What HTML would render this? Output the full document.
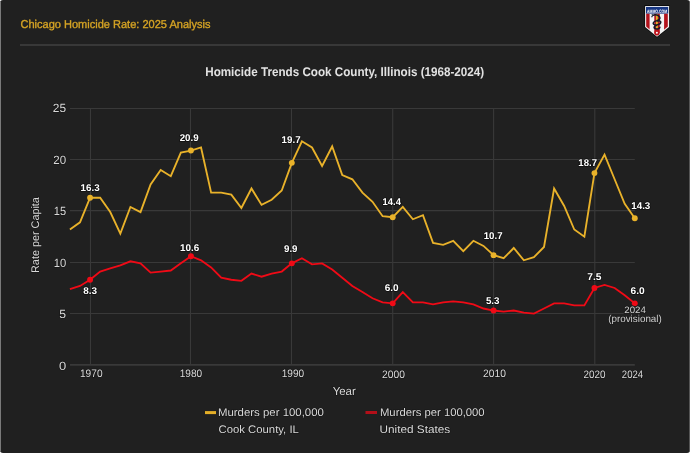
<!DOCTYPE html>
<html><head><meta charset="utf-8"><title>Chicago Homicide Rate: 2025 Analysis</title>
<style>
html,body{margin:0;padding:0;background:#ffffff;}
body{width:690px;height:453px;overflow:hidden;position:relative;}
.card{position:absolute;left:0;top:0;width:690px;height:453px;background:#202020;border-radius:3px;}
svg{position:absolute;left:0;top:0;will-change:transform;}
svg text{font-family:"Liberation Sans", Arial, sans-serif;text-rendering:geometricPrecision;}
#texts text.h{stroke:#0a0a0a;stroke-width:1.3px;stroke-opacity:0.45;paint-order:stroke;}
</style></head><body>
<div class="card"></div>
<svg width="690" height="453" viewBox="0 0 690 453">
<rect x="0" y="2" width="1" height="449" fill="#7a7a7a"/>
<rect x="689" y="2" width="1" height="449" fill="#555555"/>
<rect x="20" y="44" width="650" height="2" fill="#383838"/>
<rect x="205" y="411.1" width="11" height="3" fill="#e4ae27"/>
<rect x="365.5" y="411" width="11.5" height="3" fill="#b30f19"/>
<g id="logo">
<defs><clipPath id="shin"><path d="M646.1 13.6 H667.9 V26.6 L657 35.6 L646.1 26.6 Z"/></clipPath></defs>
<path d="M645.3 5.0 H668.9 Q669.9 5 669.9 6 V27.2 L657 37.8 L644.3 27.2 V6 Q644.3 5 645.3 5 Z" fill="#0c0c0c"/>
<path d="M645.6 5.9 H668.6 Q669.1 5.9 669.1 6.4 V26.9 L657 36.8 L645.1 26.9 V6.4 Q645.1 5.9 645.6 5.9 Z" fill="#f4f4f4"/>
<rect x="646.0" y="6.9" width="22.2" height="6.7" fill="#173683"/>
<text x="657.1" y="12.5" font-size="4.9" font-weight="bold" text-anchor="middle" fill="#ffffff" textLength="20" lengthAdjust="spacingAndGlyphs" style="font-family:'Liberation Sans',sans-serif">AMMO.COM</text>
<g clip-path="url(#shin)">
<rect x="646.1" y="13.6" width="3.5" height="24" fill="#b3121c"/>
<rect x="654.3" y="13.6" width="5.5" height="24" fill="#b3121c"/>
<rect x="664.1" y="13.6" width="3.8" height="24" fill="#b3121c"/>
</g>
<rect x="655.9" y="14.2" width="1.9" height="14.8" fill="#e6b426"/>
<path d="M652.8 15.4 C655 14.4 658.8 14.8 659.8 17.2 C660.6 19.4 658.2 20.4 656.6 20.8 C653 21.6 652.2 23.8 654.6 24.6 C657 25.4 660.6 24.4 660.8 22.4 C661 20.6 658.8 20.6 657.2 21.2 M657 25.2 C653.4 25.8 653.2 28.2 656.2 28.8 C658.8 29.2 660.2 28 659.8 26.8" fill="none" stroke="#141a28" stroke-width="1.5"/>
<path d="M652.6 15.4 L651.6 17.2 M652.8 15.4 L651.8 14.4" stroke="#141a28" stroke-width="1.1"/>
<circle cx="656.9" cy="32.8" r="2.6" fill="#c0131c"/>
<circle cx="656.9" cy="32.8" r="1.0" fill="#ffffff"/>
</g>

<g id="chart">
<line x1="70" y1="108.5" x2="634.8" y2="108.5" stroke="#393939" stroke-width="1.1"/>
<line x1="70" y1="159.5" x2="634.8" y2="159.5" stroke="#393939" stroke-width="1.1"/>
<line x1="70" y1="210.6" x2="634.8" y2="210.6" stroke="#393939" stroke-width="1.1"/>
<line x1="70" y1="262.5" x2="634.8" y2="262.5" stroke="#393939" stroke-width="1.1"/>
<line x1="70" y1="313.5" x2="634.8" y2="313.5" stroke="#393939" stroke-width="1.1"/>
<line x1="70" y1="364.9" x2="634.8" y2="364.9" stroke="#393939" stroke-width="1.8"/>
<line x1="90.5" y1="108" x2="90.5" y2="364.9" stroke="#393939" stroke-width="1.1"/>
<line x1="190.5" y1="108" x2="190.5" y2="364.9" stroke="#393939" stroke-width="1.1"/>
<line x1="291.5" y1="108" x2="291.5" y2="364.9" stroke="#393939" stroke-width="1.1"/>
<line x1="392.7" y1="108" x2="392.7" y2="364.9" stroke="#393939" stroke-width="1.1"/>
<line x1="493.6" y1="108" x2="493.6" y2="364.9" stroke="#393939" stroke-width="1.1"/>
<line x1="594.8" y1="108" x2="594.8" y2="364.9" stroke="#393939" stroke-width="1.1"/>
<polyline points="69.9,229.52 79.99,222.34 90.08,197.73 100.16,197.73 110.25,212.09 120.34,233.62 130.43,206.96 140.51,212.09 150.6,184.39 160.69,170.04 170.78,176.19 180.86,152.6 190.95,150.55 201.04,147.47 211.12,192.6 221.21,192.6 231.3,194.65 241.39,207.98 251.47,188.5 261.56,204.91 271.65,199.78 281.74,190.55 291.82,162.86 301.91,141.32 312,147.47 322.09,165.93 332.17,146.45 342.26,175.16 352.35,179.27 362.44,192.6 372.52,201.83 382.61,216.19 392.7,217.21 402.79,206.96 412.88,219.26 422.96,215.16 433.05,242.85 443.14,244.9 453.23,240.8 463.31,251.06 473.4,240.8 483.49,245.93 493.58,255.16 503.66,258.24 513.75,247.98 523.84,260.29 533.92,257.21 544.01,246.96 554.1,188.5 564.19,205.93 574.27,229.52 584.36,236.7 594.45,173.11 604.54,154.65 614.62,179.27 624.71,203.88 634.8,218.24" fill="none" stroke="#e9b22a" stroke-width="1.85" stroke-linejoin="miter" stroke-miterlimit="4"/>
<polyline points="69.9,289.01 79.99,285.93 90.08,279.78 100.16,271.57 110.25,268.49 120.34,265.42 130.43,261.31 140.51,263.37 150.6,272.6 160.69,271.57 170.78,270.54 180.86,263.37 190.95,256.19 201.04,260.29 211.12,267.47 221.21,277.72 231.3,279.78 241.39,280.8 251.47,273.62 261.56,276.7 271.65,273.62 281.74,271.57 291.82,263.37 301.91,258.24 312,264.39 322.09,263.37 332.17,269.52 342.26,277.72 352.35,285.93 362.44,292.08 372.52,298.24 382.61,302.34 392.7,303.36 402.79,292.08 412.88,302.34 422.96,302.34 433.05,304.39 443.14,302.34 453.23,301.31 463.31,302.34 473.4,304.39 483.49,308.49 493.58,310.54 503.66,311.57 513.75,310.54 523.84,312.59 533.92,313.62 544.01,308.49 554.1,303.36 564.19,303.36 574.27,305.42 584.36,305.42 594.45,287.98 604.54,284.9 614.62,287.98 624.71,295.16 634.8,303.36" fill="none" stroke="#f00a16" stroke-width="1.85" stroke-linejoin="miter" stroke-miterlimit="4"/>
<circle cx="90.08" cy="197.73" r="2.95" fill="#e9b22a"/>
<circle cx="90.08" cy="279.78" r="2.95" fill="#f00a16"/>
<circle cx="190.95" cy="150.55" r="2.95" fill="#e9b22a"/>
<circle cx="190.95" cy="256.19" r="2.95" fill="#f00a16"/>
<circle cx="291.82" cy="162.86" r="2.95" fill="#e9b22a"/>
<circle cx="291.82" cy="263.37" r="2.95" fill="#f00a16"/>
<circle cx="392.7" cy="217.21" r="2.95" fill="#e9b22a"/>
<circle cx="392.7" cy="303.36" r="2.95" fill="#f00a16"/>
<circle cx="493.58" cy="255.16" r="2.95" fill="#e9b22a"/>
<circle cx="493.58" cy="310.54" r="2.95" fill="#f00a16"/>
<circle cx="594.45" cy="173.11" r="2.95" fill="#e9b22a"/>
<circle cx="594.45" cy="287.98" r="2.95" fill="#f00a16"/>
<circle cx="634.8" cy="218.24" r="2.95" fill="#e9b22a"/>
<circle cx="634.8" cy="303.36" r="2.95" fill="#f00a16"/>
</g>
<g id="texts">
<text id="hdr" x="20.53" y="28.2" font-size="11.4" font-weight="normal" text-anchor="start" fill="#d6a424" textLength="189.95" lengthAdjust="spacingAndGlyphs" stroke="#d6a424" stroke-width="0.35">Chicago Homicide Rate: 2025 Analysis</text>
<text id="title" x="344.71" y="75.9" font-size="12.6" font-weight="bold" text-anchor="middle" fill="#e2e2e2" textLength="278.97" lengthAdjust="spacingAndGlyphs" >Homicide Trends Cook County, Illinois (1968-2024)</text>
<text class="h" id="y25" x="66.13" y="112.47" font-size="11.9" font-weight="normal" text-anchor="end" fill="#d8d8d8" textLength="13.26" lengthAdjust="spacingAndGlyphs" >25</text>
<text class="h" id="y20" x="66.1" y="163.71" font-size="11.9" font-weight="normal" text-anchor="end" fill="#d8d8d8" textLength="12.81" lengthAdjust="spacingAndGlyphs" >20</text>
<text class="h" id="y15" x="66.06" y="215.45" font-size="11.9" font-weight="normal" text-anchor="end" fill="#d8d8d8" textLength="12.32" lengthAdjust="spacingAndGlyphs" >15</text>
<text class="h" id="y10" x="66.18" y="266.85" font-size="11.9" font-weight="normal" text-anchor="end" fill="#d8d8d8" textLength="12.45" lengthAdjust="spacingAndGlyphs" >10</text>
<text class="h" id="y5" x="66.14" y="318.07" font-size="11.9" font-weight="normal" text-anchor="end" fill="#d8d8d8" textLength="6.79" lengthAdjust="spacingAndGlyphs" >5</text>
<text class="h" id="y0" x="66.31" y="369.68" font-size="11.9" font-weight="normal" text-anchor="end" fill="#d8d8d8" textLength="7.21" lengthAdjust="spacingAndGlyphs" >0</text>
<text class="h" id="x1970" x="91.25" y="377.42" font-size="10.9" font-weight="normal" text-anchor="middle" fill="#d8d8d8" textLength="22.62" lengthAdjust="spacingAndGlyphs" >1970</text>
<text class="h" id="x1980" x="190.9" y="377.38" font-size="10.9" font-weight="normal" text-anchor="middle" fill="#d8d8d8" textLength="22.46" lengthAdjust="spacingAndGlyphs" >1980</text>
<text class="h" id="x1990" x="292.98" y="377.31" font-size="10.9" font-weight="normal" text-anchor="middle" fill="#d8d8d8" textLength="22.48" lengthAdjust="spacingAndGlyphs" >1990</text>
<text class="h" id="x2000" x="393.44" y="377.85" font-size="10.9" font-weight="normal" text-anchor="middle" fill="#d8d8d8" textLength="22.87" lengthAdjust="spacingAndGlyphs" >2000</text>
<text class="h" id="x2010" x="494.55" y="377.38" font-size="10.9" font-weight="normal" text-anchor="middle" fill="#d8d8d8" textLength="22.91" lengthAdjust="spacingAndGlyphs" >2010</text>
<text class="h" id="x2020" x="594.6" y="377.9" font-size="10.9" font-weight="normal" text-anchor="middle" fill="#d8d8d8" textLength="22.06" lengthAdjust="spacingAndGlyphs" >2020</text>
<text class="h" id="x2024" x="632.47" y="378.04" font-size="10.9" font-weight="normal" text-anchor="middle" fill="#d8d8d8" textLength="21.33" lengthAdjust="spacingAndGlyphs" >2024</text>
<text class="h" id="year" x="344.22" y="394.84" font-size="11.6" font-weight="normal" text-anchor="middle" fill="#d8d8d8" textLength="23.18" lengthAdjust="spacingAndGlyphs" >Year</text>
<text class="h" id="ylab" x="0" y="0" font-size="11.0" font-weight="normal" text-anchor="middle" fill="#d8d8d8" textLength="75.8" lengthAdjust="spacingAndGlyphs" transform="translate(38.6 235.05) rotate(-90)">Rate per Capita</text>
<text class="h" id="leg1a" x="217.98" y="415.9" font-size="11" font-weight="normal" text-anchor="start" fill="#d8d8d8" textLength="105.9" lengthAdjust="spacingAndGlyphs" >Murders per 100,000</text>
<text class="h" id="leg1b" x="218.48" y="432.6" font-size="11" font-weight="normal" text-anchor="start" fill="#d8d8d8" textLength="80.4" lengthAdjust="spacingAndGlyphs" >Cook County, IL</text>
<text class="h" id="leg2a" x="379.97" y="415.9" font-size="11" font-weight="normal" text-anchor="start" fill="#d8d8d8" textLength="104.67" lengthAdjust="spacingAndGlyphs" >Murders per 100,000</text>
<text class="h" id="leg2b" x="379.51" y="432.6" font-size="11" font-weight="normal" text-anchor="start" fill="#d8d8d8" textLength="70.68" lengthAdjust="spacingAndGlyphs" >United States</text>
<text id="dl0" x="90.15" y="190.52" font-size="9.8" font-weight="bold" text-anchor="middle" fill="#ffffff" textLength="19.1" lengthAdjust="spacingAndGlyphs" stroke="#000" stroke-width="1.6" stroke-opacity="0.5" paint-order="stroke">16.3</text>
<text id="dl1" x="189.15" y="141.41" font-size="9.8" font-weight="bold" text-anchor="middle" fill="#ffffff" textLength="18.97" lengthAdjust="spacingAndGlyphs" stroke="#000" stroke-width="1.6" stroke-opacity="0.5" paint-order="stroke">20.9</text>
<text id="dl2" x="291.1" y="143.44" font-size="9.8" font-weight="bold" text-anchor="middle" fill="#ffffff" textLength="18.98" lengthAdjust="spacingAndGlyphs" stroke="#000" stroke-width="1.6" stroke-opacity="0.5" paint-order="stroke">19.7</text>
<text id="dl3" x="391.77" y="205.12" font-size="9.8" font-weight="bold" text-anchor="middle" fill="#ffffff" textLength="18.32" lengthAdjust="spacingAndGlyphs" stroke="#000" stroke-width="1.6" stroke-opacity="0.5" paint-order="stroke">14.4</text>
<text id="dl4" x="493.15" y="239.01" font-size="9.8" font-weight="bold" text-anchor="middle" fill="#ffffff" textLength="18.86" lengthAdjust="spacingAndGlyphs" stroke="#000" stroke-width="1.6" stroke-opacity="0.5" paint-order="stroke">10.7</text>
<text id="dl5" x="587.65" y="165.86" font-size="9.8" font-weight="bold" text-anchor="middle" fill="#ffffff" textLength="18.65" lengthAdjust="spacingAndGlyphs" stroke="#000" stroke-width="1.6" stroke-opacity="0.5" paint-order="stroke">18.7</text>
<text id="dl6" x="640.8" y="209.09" font-size="9.8" font-weight="bold" text-anchor="middle" fill="#ffffff" textLength="19.08" lengthAdjust="spacingAndGlyphs" stroke="#000" stroke-width="1.6" stroke-opacity="0.5" paint-order="stroke">14.3</text>
<text id="dl7" x="90.14" y="293.89" font-size="9.8" font-weight="bold" text-anchor="middle" fill="#ffffff" textLength="13.85" lengthAdjust="spacingAndGlyphs" stroke="#000" stroke-width="1.6" stroke-opacity="0.5" paint-order="stroke">8.3</text>
<text id="dl8" x="189.74" y="250.5" font-size="9.8" font-weight="bold" text-anchor="middle" fill="#ffffff" textLength="19.28" lengthAdjust="spacingAndGlyphs" stroke="#000" stroke-width="1.6" stroke-opacity="0.5" paint-order="stroke">10.6</text>
<text id="dl9" x="290.75" y="252.11" font-size="9.8" font-weight="bold" text-anchor="middle" fill="#ffffff" textLength="13.55" lengthAdjust="spacingAndGlyphs" stroke="#000" stroke-width="1.6" stroke-opacity="0.5" paint-order="stroke">9.9</text>
<text id="dl10" x="391.75" y="290.89" font-size="9.8" font-weight="bold" text-anchor="middle" fill="#ffffff" textLength="13.94" lengthAdjust="spacingAndGlyphs" stroke="#000" stroke-width="1.6" stroke-opacity="0.5" paint-order="stroke">6.0</text>
<text id="dl11" x="492.7" y="303.89" font-size="9.8" font-weight="bold" text-anchor="middle" fill="#ffffff" textLength="13.63" lengthAdjust="spacingAndGlyphs" stroke="#000" stroke-width="1.6" stroke-opacity="0.5" paint-order="stroke">5.3</text>
<text id="dl12" x="594.35" y="279.99" font-size="9.8" font-weight="bold" text-anchor="middle" fill="#ffffff" textLength="14.28" lengthAdjust="spacingAndGlyphs" stroke="#000" stroke-width="1.6" stroke-opacity="0.5" paint-order="stroke">7.5</text>
<text id="dl13" x="637.6" y="294.29" font-size="9.8" font-weight="bold" text-anchor="middle" fill="#ffffff" textLength="14.16" lengthAdjust="spacingAndGlyphs" stroke="#000" stroke-width="1.6" stroke-opacity="0.5" paint-order="stroke">6.0</text>
<text id="ann1" x="635.12" y="312.67" font-size="9.3" font-weight="normal" text-anchor="middle" fill="#cfcfcf" textLength="21.57" lengthAdjust="spacingAndGlyphs" stroke="#1c1c1c" stroke-width="2" paint-order="stroke">2024</text>
<text id="ann2" x="635.0" y="321.61" font-size="10" font-weight="normal" text-anchor="middle" fill="#cfcfcf" textLength="53.64" lengthAdjust="spacingAndGlyphs" stroke="#1c1c1c" stroke-width="1.5" paint-order="stroke">(provisional)</text>
</g>
</svg>
</body></html>
